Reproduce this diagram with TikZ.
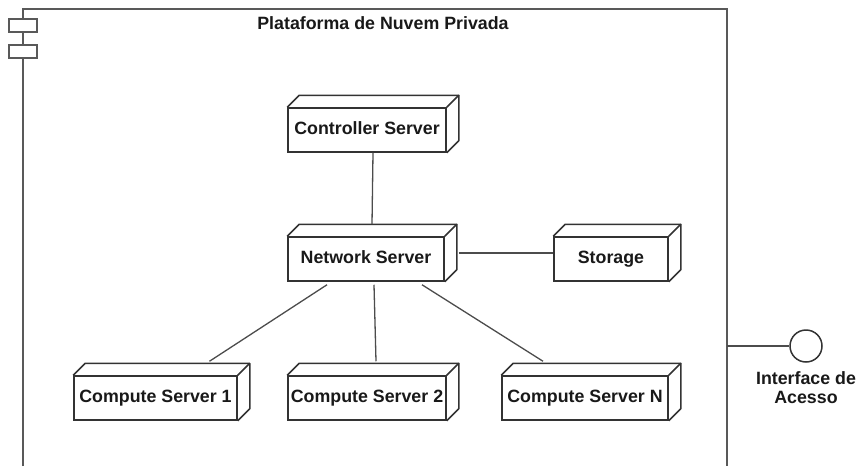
\documentclass[tikz,border=0pt]{standalone}
\usepackage{fontspec}
\setmainfont{Liberation Sans}
\usetikzlibrary{calc}
\tikzset{
  lc/.style={draw=black!80, line width=1.5pt},
  nodebox/.style={lc, fill=white, rectangle, minimum height=44pt, inner sep=0pt,
    font=\fontsize{17.8}{19}\selectfont\bfseries, text=black!90},
  edge/.style={draw=black!70, line width=1.3pt},
  frame/.style={draw=black!65, line width=1.5pt},
  lbl/.style={font=\fontsize{17.8}{18.5}\selectfont\bfseries, text=black!90, align=center}
}
\newcommand{\depthbox}[1]{%
  \draw[lc, line join=round] (#1.north west) -- ++(12,-12) -| ($(#1.south east)+(12,-12)$) -- (#1.south east);
  \draw[lc] (#1.north east) -- ++(12,-12);}
\begin{document}
\begin{tikzpicture}[x=1pt, y=-1pt]
\useasboundingbox (0,0) rectangle (859,466);
% frame
\draw[frame] (23,466) -- (23,9) -- (727,9) -- (727,466);
\draw[frame, fill=white] (9,19) rectangle (37,32);
\draw[frame, fill=white] (9,45) rectangle (37,58);
\node[lbl] (title) at (383,23) {Plataforma de Nuvem Privada};
% nodes
\node[nodebox, minimum width=158pt] (ctrl) at (367,130) {\raisebox{3pt}{Controller Server}};
\node[nodebox, minimum width=156pt] (net) at (366,259) {\raisebox{3pt}{Network Server}};
\node[nodebox, minimum width=114pt] (sto) at (611,259) {\raisebox{3pt}{Storage}};
\node[nodebox, minimum width=163pt] (cs1) at (155.5,398) {\raisebox{3pt}{Compute Server 1}};
\node[nodebox, minimum width=158pt] (cs2) at (367,398) {\raisebox{3pt}{Compute Server 2}};
\node[nodebox, minimum width=166pt] (csn) at (585,398) {\raisebox{3pt}{Compute Server N}};
\depthbox{ctrl}\depthbox{net}\depthbox{sto}\depthbox{cs1}\depthbox{cs2}\depthbox{csn}
% edges
\draw[edge] ([xshift=6pt]ctrl.south) -- ([xshift=6pt,yshift=12pt]net.north);
\draw[edge] ([xshift=14pt,yshift=6pt]net.east) -- ([yshift=6pt]sto.west);
\draw[edge] ([xshift=-39pt,yshift=-3pt]net.south) -- ([xshift=54pt,yshift=14pt]cs1.north);
\draw[edge] ([xshift=8pt,yshift=-3pt]net.south) -- ([xshift=9pt,yshift=14pt]cs2.north);
\draw[edge] ([xshift=56pt,yshift=-3pt]net.south) -- ([xshift=-42pt,yshift=14pt]csn.north);
% interface
\node[circle, lc, fill=white, minimum size=32pt, inner sep=0pt] (iface) at (806,346) {};
\coordinate (fr) at (727,346);
\draw[edge] (fr) -- (iface.west);
\node[lbl, anchor=north, inner sep=0pt] (ilbl) at ([yshift=-9pt]iface.south) {Interface de\\Acesso};
\end{tikzpicture}
\end{document}
